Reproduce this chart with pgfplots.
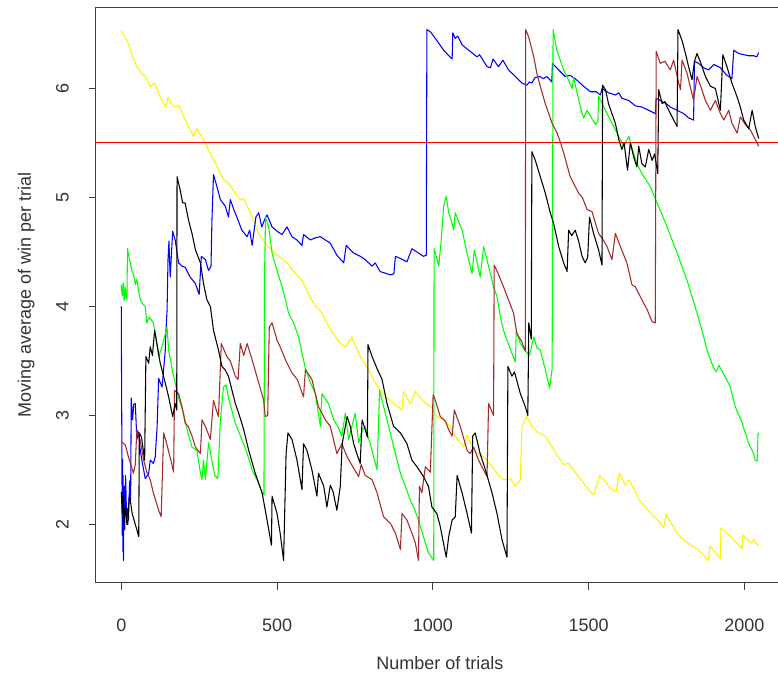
\documentclass[border=0pt]{standalone}
\usepackage{pgfplots}
\pgfplotsset{compat=1.18}
\usepackage{fontspec}
\setmainfont{Liberation Sans}
\definecolor{rbrown}{HTML}{A52A2A}
\definecolor{axgray}{gray}{0.25}
\definecolor{txt}{gray}{0.2}
\begin{document}
\begin{tikzpicture}
\begin{axis}[
  name=ax,
  at={(71.8pt,68.25pt)}, anchor=south west,
  scale only axis, width=511.7pt, height=431.8pt,
  xmin=-82, xmax=2108, ymin=1.463, ymax=6.745,
  axis line style={draw=none},
  tick pos=left, tick align=outside,
  major tick length=5.25pt,
  tick style={axgray, line width=0.75pt},
  xtick={0,500,1000,1500,2000},
  ytick={2,3,4,5,6},
  /pgf/number format/assume math mode=true,
  /pgf/number format/set thousands separator={},
  ticklabel style={font=\fontsize{13.5}{16}\selectfont, text=txt, inner sep=0pt},
  xticklabel style={anchor=base, yshift=-31.2pt},
  yticklabel style={xshift=-15pt, rotate=90, anchor=base},
  every axis plot/.append style={line width=0.8pt, line join=round},
]
\addplot[yellow] coordinates {
(0,6.53)(10,6.48)(23,6.41)(35,6.30)(50,6.20)(65,6.14)(77,6.11)(93,6.02)(107,6.05)(125,5.92)
(143,5.83)(150,5.92)(160,5.86)(173,5.83)(186,5.84)(200,5.74)(211,5.68)(232,5.56)(243,5.63)(255,5.57)
(270,5.50)(291,5.37)(305,5.30)(318,5.22)(330,5.16)(344,5.13)(366,5.04)(382,4.98)(393,4.99)(414,4.86)
(441,4.67)(468,4.56)(494,4.49)(532,4.40)(560,4.30)(580,4.24)(607,4.08)(625,4.00)(644,3.94)(660,3.85)
(676,3.77)(703,3.66)(719,3.63)(740,3.72)(767,3.54)(794,3.42)(812,3.32)(831,3.23)(850,3.17)(874,3.11)
(901,3.05)(906,3.22)(928,3.11)(944,3.22)(970,3.13)(997,3.07)(1013,2.99)(1035,2.96)(1056,2.90)(1072,2.81)
(1099,2.71)(1110,2.82)(1131,2.68)(1163,2.62)(1185,2.55)(1211,2.45)(1227,2.41)(1249,2.42)(1265,2.35)(1281,2.41)
(1286,2.90)(1302,2.99)(1318,2.90)(1334,2.85)(1361,2.81)(1377,2.74)(1400,2.63)(1420,2.55)(1436,2.56)(1460,2.47)
(1484,2.38)(1500,2.32)(1516,2.27)(1536,2.45)(1552,2.40)(1570,2.33)(1588,2.30)(1599,2.47)(1618,2.36)(1629,2.41)
(1650,2.30)(1666,2.21)(1685,2.15)(1704,2.09)(1725,2.03)(1741,1.97)(1749,2.09)(1770,1.99)(1789,1.90)(1810,1.85)
(1827,1.81)(1848,1.78)(1865,1.73)(1885,1.67)(1889,1.80)(1905,1.75)(1923,1.69)(1925,1.97)(1940,1.93)(1955,1.89)
(1975,1.83)(1993,1.78)(1996,1.90)(2010,1.86)(2024,1.83)(2030,1.86)(2046,1.80)
};
\addplot[blue] coordinates {
(0,4.00)(1,3.25)(2,2.70)(3,1.90)(4,2.60)(5,1.75)(6,2.45)(7,1.67)(9,2.35)(11,1.95)
(14,2.45)(17,2.05)(20,2.15)(23,2.04)(27,2.40)(30,2.22)(32,3.16)(36,2.96)(40,3.10)(45,3.11)
(50,2.78)(55,2.85)(60,2.70)(66,2.59)(77,2.42)(88,2.47)(93,2.59)(103,2.56)(109,2.62)(115,2.90)
(120,3.34)(131,3.26)(141,3.59)(143,3.75)(147,3.97)(150,4.43)(153,4.60)(157,4.27)(165,4.69)(173,4.61)
(184,4.40)(195,4.37)(205,4.36)(221,4.27)(238,4.21)(250,4.11)(257,4.46)(270,4.43)(280,4.33)(288,4.37)
(291,4.79)(296,5.21)(307,5.10)(318,4.98)(334,4.92)(344,4.82)(350,4.98)(361,4.89)(371,4.82)(387,4.70)
(404,4.64)(412,4.70)(420,4.56)(432,4.82)(441,4.86)(451,4.73)(462,4.81)(468,4.84)(484,4.73)(500,4.69)
(516,4.66)(532,4.73)(548,4.64)(564,4.61)(580,4.56)(585,4.66)(607,4.61)(623,4.63)(639,4.64)(655,4.61)
(671,4.58)(692,4.47)(714,4.40)(722,4.56)(746,4.49)(767,4.46)(783,4.43)(805,4.37)(815,4.40)(831,4.32)
(864,4.29)(875,4.30)(880,4.46)(896,4.44)(917,4.41)(933,4.53)(954,4.49)(970,4.46)(979,4.47)(981,6.54)
(992,6.52)(1013,6.44)(1035,6.35)(1045,6.32)(1062,6.27)(1064,6.51)(1072,6.46)(1080,6.48)(1094,6.40)(1120,6.34)
(1142,6.29)(1150,6.31)(1174,6.20)(1185,6.19)(1193,6.27)(1211,6.20)(1225,6.26)(1243,6.17)(1265,6.11)(1286,6.05)
(1302,6.03)(1310,6.06)(1318,6.05)(1328,6.10)(1343,6.11)(1355,6.09)(1366,6.11)(1382,6.06)(1384,6.23)(1404,6.17)
(1425,6.11)(1440,6.12)(1457,6.09)(1484,6.02)(1506,5.97)(1525,5.97)(1538,5.94)(1543,6.00)(1564,5.96)(1586,5.94)
(1597,5.96)(1607,5.91)(1629,5.89)(1650,5.84)(1671,5.83)(1693,5.80)(1714,5.77)(1717,5.91)(1736,5.88)(1750,5.86)
(1762,5.83)(1784,5.80)(1805,5.77)(1821,5.73)(1837,5.71)(1840,6.25)(1853,6.23)(1869,6.19)(1885,6.17)(1902,6.22)
(1923,6.19)(1944,6.12)(1960,6.09)(1966,6.35)(1982,6.32)(1998,6.31)(2014,6.30)(2030,6.30)(2040,6.29)(2046,6.33)
};
\addplot[green] coordinates {
(0,4.20)(3,4.10)(6,4.22)(9,4.05)(12,4.18)(15,4.08)(18,4.06)(20,4.53)(25,4.45)(29,4.40)
(35,4.32)(39,4.30)(45,4.20)(50,4.25)(55,4.15)(61,4.06)(70,4.02)(77,4.00)(82,3.85)(90,3.90)
(103,3.85)(109,3.75)(120,3.54)(130,3.62)(136,3.69)(147,3.81)(152,3.60)(165,3.40)(173,3.30)(185,3.15)
(200,3.02)(213,2.85)(227,2.71)(243,2.68)(254,2.47)(259,2.41)(264,2.59)(270,2.41)(280,2.75)(290,2.60)
(300,2.45)(310,2.42)(318,2.95)(328,3.26)(336,3.28)(345,3.15)(366,2.93)(387,2.78)(404,2.65)(420,2.50)
(436,2.41)(452,2.29)(458,2.27)(460,4.30)(463,4.82)(473,4.73)(484,4.49)(500,4.33)(516,4.18)(527,4.06)
(537,3.94)(553,3.85)(569,3.72)(591,3.43)(607,3.30)(623,3.20)(639,2.90)(644,3.20)(665,3.11)(682,2.96)
(695,2.90)(708,2.81)(719,3.02)(730,2.78)(740,2.90)(751,3.02)(762,2.75)(772,2.85)(783,2.90)(799,2.74)
(821,2.50)(829,3.23)(853,2.96)(880,2.65)(896,2.47)(912,2.35)(928,2.22)(940,2.15)(954,2.04)(976,1.83)
(986,1.74)(1003,1.67)(1004,4.53)(1012,4.45)(1019,4.37)(1027,4.61)(1035,4.92)(1043,5.01)(1051,4.86)(1060,4.78)
(1067,4.70)(1072,4.86)(1094,4.70)(1110,4.49)(1126,4.30)(1133,4.52)(1152,4.27)(1163,4.55)(1179,4.37)(1195,4.18)
(1206,4.09)(1217,3.90)(1227,3.78)(1238,3.69)(1254,3.57)(1265,3.49)(1268,3.78)(1281,3.66)(1297,3.59)(1310,3.55)
(1324,3.72)(1334,3.62)(1345,3.60)(1361,3.42)(1375,3.25)(1383,3.43)(1386,6.54)(1398,6.35)(1420,6.17)(1435,6.08)
(1447,6.00)(1452,6.10)(1463,5.96)(1479,5.77)(1484,5.73)(1495,5.80)(1505,5.75)(1522,5.67)(1530,5.70)(1532,5.93)
(1554,5.80)(1575,5.68)(1597,5.56)(1613,5.47)(1629,5.56)(1640,5.45)(1655,5.31)(1671,5.22)(1698,5.10)(1720,4.95)
(1752,4.73)(1784,4.49)(1816,4.24)(1832,4.09)(1848,3.94)(1865,3.77)(1880,3.60)(1902,3.43)(1910,3.40)(1918,3.46)
(1930,3.40)(1955,3.26)(1971,3.08)(1993,2.93)(2014,2.74)(2030,2.65)(2035,2.59)(2041,2.58)(2044,2.84)(2046,2.83)
};
\addplot[rbrown] coordinates {
(0,2.76)(13,2.73)(23,2.62)(39,2.47)(45,2.55)(50,2.87)(60,2.78)(72,2.59)(82,2.48)(93,2.41)
(103,2.29)(120,2.13)(128,2.07)(136,2.84)(145,2.75)(160,2.58)(168,2.48)(171,3.23)(184,3.20)(195,3.08)
(205,2.93)(215,2.90)(227,2.81)(238,2.71)(254,2.65)(259,2.96)(270,2.90)(286,2.78)(296,3.14)(305,3.05)
(312,2.99)(321,3.66)(339,3.54)(350,3.50)(366,3.36)(375,3.33)(382,3.66)(393,3.55)(404,3.66)(420,3.51)
(441,3.30)(457,3.14)(462,2.99)(470,3.00)(475,3.81)(484,3.85)(500,3.69)(510,3.63)(527,3.51)(548,3.39)
(565,3.33)(585,3.17)(591,3.42)(612,3.33)(633,3.08)(655,2.96)(671,2.90)(692,2.65)(708,2.74)(725,2.62)
(745,2.52)(762,2.44)(770,2.55)(783,2.45)(805,2.41)(821,2.29)(842,2.07)(864,2.01)(880,1.92)(896,1.77)
(901,2.10)(917,2.04)(933,1.92)(944,1.83)(954,1.67)(957,2.35)(965,2.29)(976,2.53)(992,2.48)(1001,3.19)
(1008,3.14)(1024,2.99)(1040,2.95)(1051,2.87)(1062,2.81)(1069,3.05)(1088,2.90)(1110,2.68)(1120,2.65)(1131,2.71)
(1147,2.59)(1163,2.50)(1174,2.44)(1179,3.11)(1195,3.00)(1197,4.38)(1210,4.30)(1227,4.18)(1243,4.06)(1259,3.94)
(1270,3.75)(1285,3.68)(1297,3.59)(1298,6.54)(1308,6.47)(1324,6.29)(1334,6.14)(1345,6.02)(1361,5.86)(1383,5.68)
(1399,5.59)(1409,5.51)(1420,5.41)(1441,5.19)(1468,5.04)(1480,5.00)(1495,4.89)(1511,4.87)(1532,4.67)(1545,4.62)
(1559,4.55)(1575,4.43)(1586,4.67)(1602,4.55)(1623,4.40)(1639,4.20)(1650,4.18)(1666,4.09)(1688,3.97)(1704,3.86)
(1714,3.85)(1717,6.34)(1730,6.23)(1745,6.25)(1762,6.17)(1773,6.26)(1789,6.05)(1795,5.99)(1800,6.26)(1816,6.14)
(1837,5.89)(1848,6.11)(1860,6.02)(1875,5.89)(1891,5.80)(1907,5.89)(1923,5.77)(1934,5.71)(1950,5.80)(1960,5.68)
(1977,5.59)(1987,5.74)(2003,5.67)(2019,5.62)(2030,5.56)(2046,5.47)
};
\addplot[black] coordinates {
(0,2.30)(3,2.10)(6,2.28)(9,2.00)(12,2.15)(15,2.13)(18,2.00)(21,2.00)(25,2.25)(29,2.22)
(35,2.10)(40,2.05)(47,1.98)(56,1.89)(58,2.84)(65,2.80)(75,2.59)(79,3.54)(88,3.48)(93,3.63)
(100,3.55)(107,3.78)(112,3.70)(125,3.48)(141,3.30)(152,3.17)(165,2.99)(173,3.11)(178,3.05)(179,5.19)
(189,5.07)(197,4.95)(205,4.95)(216,4.79)(227,4.67)(238,4.52)(254,4.40)(264,4.21)(275,4.06)(286,4.00)
(296,3.78)(312,3.60)(323,3.45)(333,3.42)(344,3.36)(366,3.11)(377,3.02)(393,2.87)(409,2.68)(430,2.47)
(452,2.29)(468,2.04)(482,1.81)(484,2.26)(500,2.10)(510,1.92)(521,1.67)(529,2.65)(535,2.84)(548,2.78)
(564,2.59)(580,2.32)(585,2.74)(596,2.68)(612,2.50)(628,2.26)(633,2.47)(650,2.35)(660,2.16)(671,2.36)
(680,2.30)(692,2.13)(703,2.35)(709,2.74)(725,2.99)(735,2.90)(746,2.74)(756,2.65)(767,2.56)(773,2.96)
(783,2.87)(790,2.80)(792,3.65)(805,3.54)(821,3.43)(837,3.33)(853,3.11)(874,2.90)(896,2.84)(917,2.74)
(933,2.59)(949,2.53)(970,2.44)(986,2.35)(997,2.16)(1013,2.10)(1024,1.98)(1043,1.70)(1051,1.89)(1062,2.04)
(1072,2.07)(1078,2.45)(1094,2.29)(1110,2.10)(1124,1.92)(1128,2.81)(1136,2.84)(1152,2.65)(1169,2.50)(1190,2.29)
(1206,2.10)(1222,1.86)(1238,1.70)(1241,3.45)(1254,3.36)(1262,3.40)(1281,3.20)(1297,3.08)(1305,3.00)(1308,3.85)
(1316,3.70)(1318,5.42)(1329,5.34)(1345,5.19)(1361,5.04)(1377,4.86)(1388,4.76)(1404,4.55)(1420,4.40)(1431,4.32)
(1436,4.70)(1446,4.65)(1457,4.70)(1468,4.60)(1479,4.46)(1489,4.40)(1497,4.45)(1503,4.82)(1516,4.67)(1532,4.52)
(1543,4.38)(1545,6.03)(1554,5.99)(1564,5.86)(1575,5.77)(1586,5.68)(1597,5.53)(1607,5.44)(1614,5.50)(1625,5.25)
(1634,5.50)(1645,5.37)(1655,5.28)(1661,5.47)(1671,5.31)(1682,5.28)(1693,5.44)(1704,5.34)(1712,5.40)(1722,5.22)
(1725,5.99)(1736,5.86)(1745,5.88)(1752,5.83)(1768,5.74)(1784,5.65)(1787,6.54)(1800,6.44)(1811,6.32)(1821,6.20)
(1832,6.08)(1840,6.25)(1848,6.32)(1858,6.25)(1875,6.11)(1891,6.02)(1907,6.00)(1923,5.80)(1931,6.31)(1944,6.20)
(1960,6.05)(1977,5.92)(1987,5.83)(1998,5.71)(2014,5.63)(2025,5.80)(2035,5.65)(2046,5.54)
};
\addplot[red] coordinates {(-82,5.5)(2108,5.5)};
\end{axis}
\draw[axgray, line width=0.75pt] (ax.north east) -- (ax.north west) -- (ax.south west) -- (ax.south east);
\node[anchor=base, inner sep=0pt, font=\fontsize{13.5}{16}\selectfont, text=txt]
  at ([xshift=2.3pt, yshift=-65.25pt]ax.south) {Number of trials};
\node[rotate=90, anchor=base, inner sep=0pt, font=\fontsize{13.5}{16}\selectfont, text=txt]
  at ([xshift=-48.7pt]ax.west) {Moving average of win per trial};
\pgfresetboundingbox
\path[use as bounding box] (0,0) rectangle (583.5pt,505.5pt);
\end{tikzpicture}
\end{document}
